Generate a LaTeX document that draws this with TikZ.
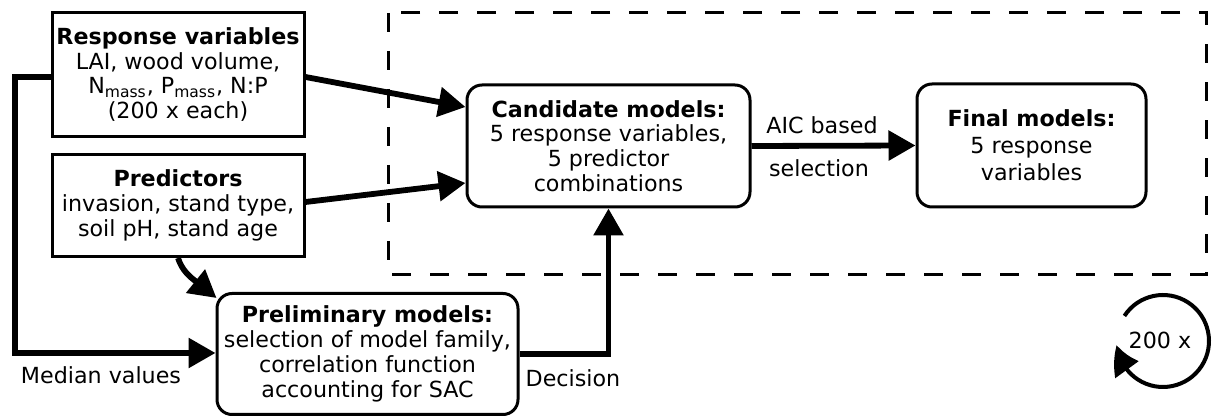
\documentclass[tikz,border=0pt]{standalone}
\usepackage{fontspec}
\setmainfont{DejaVu Sans}
\usetikzlibrary{arrows.meta,bending}
\tikzset{
  txt/.style={font=\fontsize{11.1}{12.4}\selectfont, align=center, inner sep=0pt},
  sqbox/.style={txt, draw, line width=1.5pt},
  rbox/.style={txt, draw, line width=1.5pt, rounded corners=7.5pt},
  conn/.style={line width=2.9pt, -{Triangle[length=13.5pt,width=14.5pt]}},
}
\begin{document}
\begin{tikzpicture}[x=0.5pt,y=-0.5pt]
\useasboundingbox (0,0) rectangle (1212,416);
% dashed frame
\draw[line width=1.5pt, dash pattern=on 9.5pt off 9.5pt] (388,13) rectangle (1206,275);
% nodes
\node[sqbox, minimum width=126pt, minimum height=62pt] (resp) at (178,74.5)
  {\textbf{Response variables}\\LAI, wood volume,\\N\textsubscript{mass}, P\textsubscript{mass}, N:P\\(200 x each)};
\node[sqbox, minimum width=126pt, minimum height=51pt] (pred) at (178,205.5)
  {\textbf{Predictors}\\invasion, stand type,\\soil pH, stand age};
\node[rbox, minimum width=141.5pt, minimum height=61pt] (cand) at (608.5,146)
  {\textbf{Candidate models:}\\5 response variables,\\5 predictor\\combinations};
\node[rbox, minimum width=114.5pt, minimum height=61.5pt, font=\fontsize{11.1}{13.5}\selectfont] (final) at (1031.5,145.5)
  {\textbf{Final models:}\\5 response\\variables};
\node[rbox, minimum width=150.5pt, minimum height=60.5pt] (prelim) at (367.5,354)
  {\textbf{Preliminary models:}\\selection of model family,\\correlation function\\accounting for SAC};
% connectors
\draw[conn] ([shift={(0,2.5)}]resp.east) -- ([shift={(0,-39)}]cand.west);
\draw[conn] ([shift={(0,-3.5)}]pred.east) -- ([shift={(0,37)}]cand.west);
\draw[conn] (pred.south) to[out=-72,in=135] ([shift={(1,6)}]prelim.north west);
\coordinate (lft) at (15,77);
\draw[conn] ([shift={(0,2.5)}]resp.west) -- (lft) |- ([shift={(0,-1)}]prelim.west);
\draw[conn] (prelim.east) -| (cand.south);
\draw[conn] (cand.east) -- (final.west);
% labels
\node[txt] (med) at (101,375) {Median values};
\node[txt] (dec) at (573,378) {Decision};
\node[txt] (aic) at (822,125) {AIC based};
\node[txt] (sel) at (819,168) {selection};
% loop
\coordinate (cc) at (1163,341);
\draw[line width=2pt, -{Triangle[length=13.5pt,width=14pt,bend]}] (cc) ++(147:23pt) arc[start angle=147, end angle=-175, radius=23pt];
\node[txt] (rep) at (1160,340) {200 x};
\end{tikzpicture}
\end{document}
